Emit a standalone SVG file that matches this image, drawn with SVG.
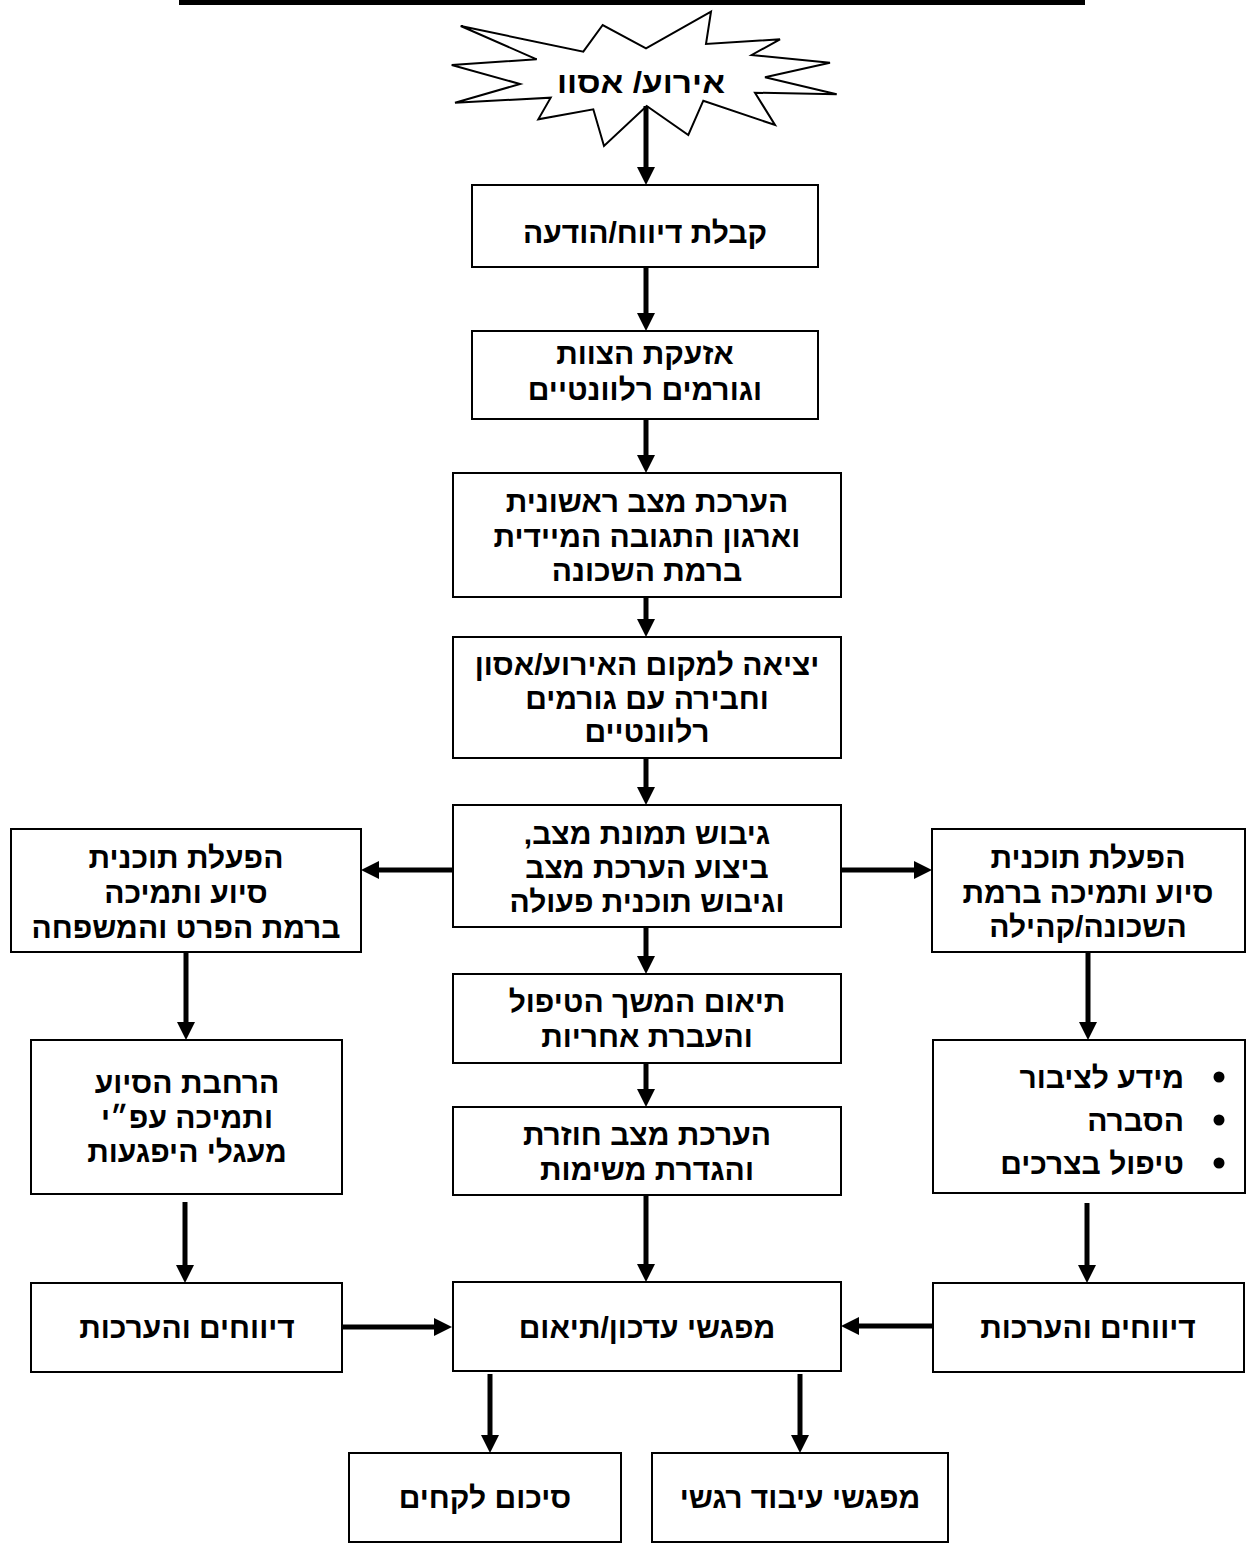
<svg xmlns="http://www.w3.org/2000/svg" width="1248" height="1544" viewBox="0 0 1248 1544">
<style>
.box{fill:#fff;stroke:#000;stroke-width:2}
.t{font-family:"Liberation Sans","DejaVu Sans",Arial,sans-serif;font-weight:bold;font-size:30px;fill:#000;text-anchor:middle;direction:rtl}
.ts{text-anchor:start}
.conn line{stroke:#000;stroke-width:5;marker-end:url(#ah)}
</style>
<defs>
<marker id="ah" markerUnits="userSpaceOnUse" viewBox="0 0 18 18" refX="8" refY="9" markerWidth="18" markerHeight="18" orient="auto">
<path d="M0,0 L18,9 L0,18 Z" fill="#000"/>
</marker>
</defs>
<rect width="1248" height="1544" fill="#fff"/>
<rect id="topline" x="179" y="0" width="906" height="5" fill="#000"/>

<g id="n-start">
<polygon class="box" points="460.7,26 583.3,51.7 602.7,25 646,48.3 711,11.7 706,44 780,39.3 751.7,55 830,62.7 765,77.3 836.7,94.3 755,92.7 775,125 703.3,100.7 688.3,135 646.7,106 604,146 593.3,109.3 538.3,119.3 550.7,97.7 455,102.7 520,84 451.7,65 536.7,59.3"/>
<text class="t" x="641" y="93" font-size="37" textLength="168" lengthAdjust="spacingAndGlyphs">אירוע/ אסוו</text>
</g>

<g id="n1"><rect class="box" x="472" y="185" width="346" height="82"/>
<text class="t" x="645" y="243">קבלת דיווח/הודעה</text></g>

<g id="n2"><rect class="box" x="472" y="331" width="346" height="88"/>
<text class="t" x="645" y="364">אזעקת הצוות</text>
<text class="t" x="645" y="400">וגורמים רלוונטיים</text></g>

<g id="n3"><rect class="box" x="453" y="473" width="388" height="124"/>
<text class="t" x="647" y="512">הערכת מצב ראשונית</text>
<text class="t" x="647" y="547">וארגון התגובה המיידית</text>
<text class="t" x="647" y="581">ברמת השכונה</text></g>

<g id="n4"><rect class="box" x="453" y="637" width="388" height="121"/>
<text class="t" x="647" y="675">יציאה למקום האירוע/אסון</text>
<text class="t" x="647" y="709">וחבירה עם גורמים</text>
<text class="t" x="647" y="742">רלוונטיים</text></g>

<g id="n5"><rect class="box" x="453" y="805" width="388" height="122"/>
<text class="t" x="647" y="844">גיבוש תמונת מצב,</text>
<text class="t" x="647" y="878">ביצוע הערכת מצב</text>
<text class="t" x="647" y="912">וגיבוש תוכנית פעולה</text></g>

<g id="l1"><rect class="box" x="11" y="829" width="350" height="123"/>
<text class="t" x="186" y="868">הפעלת תוכנית</text>
<text class="t" x="186" y="903">סיוע ותמיכה</text>
<text class="t" x="186" y="938">ברמת הפרט והמשפחה</text></g>

<g id="r1"><rect class="box" x="932" y="829" width="313" height="123"/>
<text class="t" x="1088" y="868">הפעלת תוכנית</text>
<text class="t" x="1088" y="903">סיוע ותמיכה ברמת</text>
<text class="t" x="1088" y="937">השכונה/קהילה</text></g>

<g id="n6"><rect class="box" x="453" y="974" width="388" height="89"/>
<text class="t" x="647" y="1012">תיאום המשך הטיפול</text>
<text class="t" x="647" y="1047">והעברת אחריות</text></g>

<g id="n7"><rect class="box" x="453" y="1107" width="388" height="88"/>
<text class="t" x="647" y="1145">הערכת מצב חוזרת</text>
<text class="t" x="647" y="1180">והגדרת משימות</text></g>

<g id="l2"><rect class="box" x="31" y="1040" width="311" height="154"/>
<text class="t" x="187" y="1093">הרחבת הסיוע</text>
<text class="t" x="187" y="1128">ותמיכה עפ״י</text>
<text class="t" x="187" y="1162">מעגלי היפגעות</text></g>

<g id="r2"><rect class="box" x="933" y="1040" width="312" height="153"/>
<circle cx="1219" cy="1077" r="5.5" fill="#000"/>
<circle cx="1219" cy="1120" r="5.5" fill="#000"/>
<circle cx="1219" cy="1163" r="5.5" fill="#000"/>
<text class="t ts" x="1184" y="1088">מידע לציבור</text>
<text class="t ts" x="1184" y="1131">הסברה</text>
<text class="t ts" x="1184" y="1174">טיפול בצרכים</text></g>

<g id="n8"><rect class="box" x="453" y="1282" width="388" height="89"/>
<text class="t" x="647" y="1338">מפגשי עדכון/תיאום</text></g>

<g id="l3"><rect class="box" x="31" y="1283" width="311" height="89"/>
<text class="t" x="187" y="1338">דיווחים והערכות</text></g>

<g id="r3"><rect class="box" x="933" y="1283" width="311" height="89"/>
<text class="t" x="1088" y="1338">דיווחים והערכות</text></g>

<g id="b1"><rect class="box" x="349" y="1453" width="272" height="89"/>
<text class="t" x="485" y="1508">סיכום לקחים</text></g>

<g id="b2"><rect class="box" x="652" y="1453" width="296" height="89"/>
<text class="t" x="800" y="1508">מפגשי עיבוד רגשי</text></g>

<g id="connectors" class="conn">
<line x1="646" y1="106" x2="646" y2="175"/>
<line x1="646" y1="267" x2="646" y2="321"/>
<line x1="646" y1="419" x2="646" y2="463"/>
<line x1="646" y1="597" x2="646" y2="627"/>
<line x1="646" y1="758" x2="646" y2="795"/>
<line x1="453" y1="870" x2="371" y2="870"/>
<line x1="841" y1="870" x2="922" y2="870"/>
<line x1="646" y1="927" x2="646" y2="964"/>
<line x1="646" y1="1063" x2="646" y2="1097"/>
<line x1="646" y1="1195" x2="646" y2="1272"/>
<line x1="186" y1="952" x2="186" y2="1030"/>
<line x1="1088" y1="952" x2="1088" y2="1030"/>
<line x1="185" y1="1202" x2="185" y2="1273"/>
<line x1="1087" y1="1203" x2="1087" y2="1273"/>
<line x1="342" y1="1327" x2="442" y2="1327"/>
<line x1="933" y1="1326" x2="851" y2="1326"/>
<line x1="490" y1="1374" x2="490" y2="1443"/>
<line x1="800" y1="1374" x2="800" y2="1443"/>
</g>
</svg>
